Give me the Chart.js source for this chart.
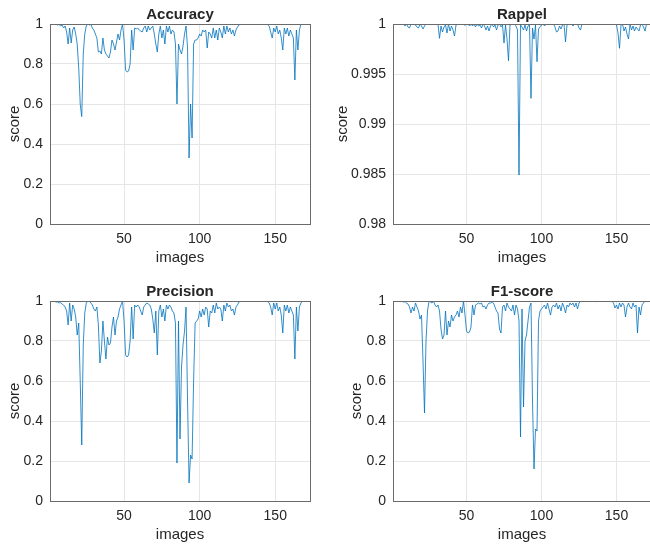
<!DOCTYPE html>
<html>
<head>
<meta charset="utf-8">
<script src="https://cdn.jsdelivr.net/npm/chart.js@4.4.1/dist/chart.umd.min.js"></script>
<style>
  html, body { margin: 0; padding: 0; background: #fff; width: 650px; height: 544px; overflow: hidden; }
  canvas { position: absolute; }
</style>
</head>
<body>
<canvas id="accChart" width="325" height="271" style="left:0;top:0"></canvas>
<canvas id="rapChart" width="325" height="271" style="left:330px;top:0"></canvas>
<canvas id="precChart" width="325" height="271" style="left:0;top:277px"></canvas>
<canvas id="f1Chart" width="325" height="271" style="left:330px;top:277px"></canvas>
<script>
// scores par image (1..173)
const accuracy = [
  1, 1, 1, 0.998, 1, 0.995, 0.998, 0.99, 0.995, 0.98,
  0.99, 0.96, 0.90, 0.98, 0.905, 0.97, 0.985, 0.95, 0.90, 0.78,
  0.60, 0.537, 0.85, 0.95, 0.99, 1, 0.995, 1, 0.98, 0.97,
  0.95, 0.93, 0.86, 0.865, 0.85, 0.93, 0.87, 0.85, 0.84, 0.83,
  0.86, 0.92, 0.90, 0.87, 0.91, 0.95, 0.92, 0.97, 1, 0.92,
  0.77, 0.76, 0.765, 0.80, 0.97, 0.87, 0.98, 0.975, 0.98, 0.97,
  0.965, 0.96, 0.98, 0.99, 0.96, 0.99, 0.97, 0.98, 0.99, 0.95,
  0.90, 0.86, 0.95, 0.99, 0.93, 0.97, 0.90, 0.99, 0.96, 0.99,
  0.95, 0.97, 0.96, 0.90, 0.60, 0.90, 0.87, 0.85, 0.89, 0.95,
  0.99, 0.88, 0.33, 0.60, 0.43, 0.90, 0.92, 0.92, 0.93, 0.95,
  0.94, 0.97, 0.96, 0.97, 0.88, 0.96, 0.95, 0.93, 0.98, 0.93,
  0.97, 0.92, 0.98, 0.96, 0.93, 0.99, 0.95, 0.99, 0.96, 0.98,
  0.95, 0.97, 0.94, 0.97, 0.985, 0.995, 1, 0.998, 1, 0.997,
  1, 1, 0.998, 1, 1, 0.997, 1, 1, 0.999, 1,
  1, 0.998, 1, 1, 0.997, 0.99, 0.96, 0.93, 0.98, 0.96,
  0.99, 0.95, 0.97, 0.93, 0.87, 0.98, 0.95, 0.98, 0.94, 0.97,
  0.95, 0.93, 0.72, 0.97, 0.87, 0.97, 1, 1, 1, 1,
  1, 1, 1
];

const rappel = [
  1, 1, 1, 1, 1, 1, 1, 1, 0.9998, 1,
  0.9997, 0.9996, 1, 1, 1, 0.9999, 0.9997, 0.9996, 1, 0.9998,
  0.9995, 0.9998, 1, 1, 1, 1, 1, 1, 1, 1,
  1, 0.99857, 0.9998, 0.9992, 0.9997, 0.9999, 0.9991, 1, 0.9993, 0.9998,
  0.9994, 0.9988, 0.9999, 1, 1, 1, 1, 1, 0.99985, 1,
  1, 0.9998, 1, 0.9998, 1, 0.9997, 1, 0.9998, 0.9999, 0.9996,
  1, 0.9998, 0.9994, 0.9998, 0.9993, 0.9998, 1, 0.9997, 0.9999, 0.9994,
  0.9999, 1, 0.9997, 0.9999, 0.9981, 0.9999, 0.9985, 0.99633, 0.9999, 1,
  1, 1, 0.9998, 0.9994, 0.9849, 0.9999, 0.9997, 0.9994, 0.9999, 0.9993,
  0.9998, 0.9999, 0.99257, 0.9996, 0.9985, 0.9999, 0.99623, 0.9995, 0.9997, 0.9999,
  1, 0.9998, 1, 1, 1, 1, 1, 1, 0.9997, 0.9992,
  0.9993, 0.9998, 0.9995, 0.9999, 1, 0.9982, 0.9999, 1, 1, 1,
  0.9998, 1, 1, 1, 0.9996, 0.9994, 1, 1, 1, 1,
  1, 1, 1, 1, 1, 0.99995, 1, 1, 1, 1,
  1, 1, 1, 1, 1, 1, 1, 1, 1, 0.9999,
  0.9991, 0.99757, 0.9999, 1, 0.9993, 0.9997, 0.9990, 0.9985, 1, 0.9994,
  0.9998, 0.9993, 0.9997, 0.9995, 0.9993, 0.9999, 1, 0.9997, 0.9993, 1,
  1, 1, 1
];

const precision = [
  1, 1, 1, 0.998, 0.995, 0.995, 0.99, 0.992, 0.985, 0.98,
  0.97, 0.95, 0.88, 0.99, 0.90, 0.98, 0.96, 0.92, 0.83, 0.89,
  0.60, 0.28, 0.78, 0.94, 0.99, 1, 1, 0.99, 0.98, 0.96,
  0.95, 0.97, 0.88, 0.69, 0.75, 0.90, 0.80, 0.71, 0.82, 0.78,
  0.79, 0.87, 0.92, 0.83, 0.90, 0.92, 0.96, 0.98, 1, 0.90,
  0.73, 0.72, 0.73, 0.80, 0.97, 0.81, 0.98, 0.97, 0.98, 0.97,
  0.95, 0.93, 0.97, 0.98, 0.99, 0.985, 0.98, 0.96, 0.91, 0.84,
  0.95, 0.73, 0.95, 0.98, 0.92, 0.96, 0.90, 0.98, 0.96, 0.98,
  0.97, 0.95, 0.94, 0.89, 0.19, 0.90, 0.31, 0.67, 0.78, 0.85,
  0.97, 0.50, 0.09, 0.23, 0.21, 0.60, 0.89, 0.90, 0.91, 0.95,
  0.92, 0.96, 0.93, 0.97, 0.96, 0.87, 0.95, 0.94, 0.98, 0.94,
  0.99, 0.96, 0.97, 0.96, 0.90, 0.98, 0.95, 0.99, 0.97, 0.98,
  0.95, 0.96, 0.93, 0.97, 0.98, 0.995, 1, 0.998, 1, 0.997,
  1, 1, 0.998, 1, 1, 0.997, 1, 1, 0.999, 1,
  1, 0.998, 1, 1, 0.997, 0.99, 0.97, 0.93, 0.99, 0.96,
  0.99, 0.95, 0.97, 0.93, 0.84, 0.98, 0.95, 0.98, 0.94, 0.97,
  0.95, 0.93, 0.71, 0.97, 0.85, 0.97, 0.99, 1, 1, 1,
  1, 1, 1
];

const f1score = [
  1, 1, 1, 0.998, 1, 0.997, 0.998, 0.995, 0.997, 0.99,
  0.985, 0.97, 0.94, 0.97, 0.95, 0.99, 0.97, 0.95, 0.91, 0.93,
  0.70, 0.44, 0.80, 0.95, 1, 0.995, 0.99, 1, 0.98, 0.97,
  0.98, 0.95, 0.86, 0.81, 0.83, 0.95, 0.83, 0.90, 0.87, 0.93,
  0.90, 0.92, 0.93, 0.95, 0.92, 0.97, 0.94, 1, 0.93, 0.85,
  0.84, 0.845, 0.87, 0.98, 0.93, 0.98, 0.985, 0.99, 0.985, 0.99,
  0.97, 0.975, 0.96, 0.98, 0.99, 0.99, 0.995, 0.99, 0.97, 0.95,
  0.94, 0.86, 0.84, 0.97, 0.98, 0.95, 0.99, 0.97, 0.96, 0.95,
  0.98, 0.93, 0.98, 0.96, 0.90, 0.32, 0.96, 0.47, 0.80, 0.83,
  0.90, 0.97, 0.99, 0.50, 0.16, 0.36, 0.35, 0.90, 0.95, 0.96,
  0.97, 0.98, 0.96, 0.99, 0.96, 0.93, 0.97, 0.98, 0.97, 0.99,
  0.96, 0.98, 0.95, 0.99, 0.97, 0.94, 0.98, 0.97, 0.99, 0.98,
  0.99, 0.97, 0.99, 0.96, 0.99, 0.998, 1, 0.998, 1, 0.997,
  1, 1, 0.998, 1, 1, 0.997, 1, 1, 0.999, 1,
  1, 0.998, 1, 1, 0.997, 1, 0.998, 0.99, 0.965, 0.98,
  0.96, 0.99, 0.97, 0.99, 0.98, 0.92, 0.97, 0.99, 0.97, 0.96,
  0.99, 0.97, 0.98, 0.84, 0.97, 0.93, 0.98, 0.99, 1, 1,
  1, 1, 1
];

const xTicks = [50, 100, 150];
const scoreTicks = [0, 0.2, 0.4, 0.6, 0.8, 1];
const rappelTicks = [0.98, 0.985, 0.99, 0.995, 1];

const textColor = '#262626';
const boxColor = '#6b6b6b';
const gridColor = '#e6e6e6';
Chart.defaults.font.family = '"Liberation Sans", Arial, sans-serif';

// cadre complet + titre centré sur la zone du graphique
const frame = {
  id: 'frame',
  afterDatasetsDraw(chart) {
    const { ctx, chartArea: a } = chart;
    ctx.save();
    ctx.strokeStyle = boxColor;
    ctx.lineWidth = 1;
    ctx.strokeRect(a.left + 0.5, a.top + 0.5, a.right - a.left, a.bottom - a.top);
    ctx.restore();
  },
  afterDraw(chart, args, opts) {
    const { ctx, chartArea: a } = chart;
    ctx.save();
    ctx.fillStyle = textColor;
    ctx.font = 'bold 15px "Liberation Sans", Arial, sans-serif';
    ctx.textAlign = 'center';
    ctx.textBaseline = 'alphabetic';
    ctx.fillText(opts.title, (a.left + a.right) / 2, 18.5);
    ctx.restore();
  }
};

function makeChart(id, title, values, yMin, yMax, yTicks, padLeft, yWidth, padRight) {
  new Chart(document.getElementById(id), {
    type: 'line',
    data: {
      datasets: [{
        data: values.map((v, i) => ({ x: i + 1, y: v })),
        borderColor: '#0072BD',
        borderWidth: 0.8,
        pointRadius: 0,
        tension: 0
      }]
    },
    options: {
      responsive: false,
      animation: false,
      devicePixelRatio: 1,
      layout: { padding: { left: padLeft, top: 24, right: padRight, bottom: 0 } },
      plugins: {
        legend: { display: false },
        tooltip: { enabled: false },
        frame: { title: title }
      },
      scales: {
        x: {
          type: 'linear',
          min: 1,
          max: 173,
          afterBuildTicks: s => { s.ticks = xTicks.map(v => ({ value: v })); },
          afterFit: s => { s.height = 47; },
          grid: { color: gridColor, drawTicks: false },
          border: { display: false },
          ticks: { padding: 7, color: textColor, font: { size: 14 } },
          title: { display: true, text: 'images', color: textColor, font: { size: 15 }, padding: { top: 4, bottom: 4 } }
        },
        y: {
          min: yMin,
          max: yMax,
          afterBuildTicks: s => { s.ticks = yTicks.map(v => ({ value: v })); },
          afterFit: s => { s.width = yWidth; },
          grid: { color: gridColor, drawTicks: false },
          border: { display: false },
          ticks: {
            padding: 7,
            color: textColor,
            font: { size: 14 },
            callback: v => String(Number(v.toFixed(3)))
          },
          title: { display: true, text: 'score', color: textColor, font: { size: 15 }, padding: { top: 4, bottom: 4 } }
        }
      }
    },
    plugins: [frame]
  });
}

makeChart('accChart', 'Accuracy', accuracy, 0, 1, scoreTicks, 2, 48, 15);
makeChart('rapChart', 'Rappel', rappel, 0.98, 1, rappelTicks, 0, 63, 4);
makeChart('precChart', 'Precision', precision, 0, 1, scoreTicks, 2, 48, 15);
makeChart('f1Chart', 'F1-score', f1score, 0, 1, scoreTicks, 14, 49, 4);
</script>
</body>
</html>
